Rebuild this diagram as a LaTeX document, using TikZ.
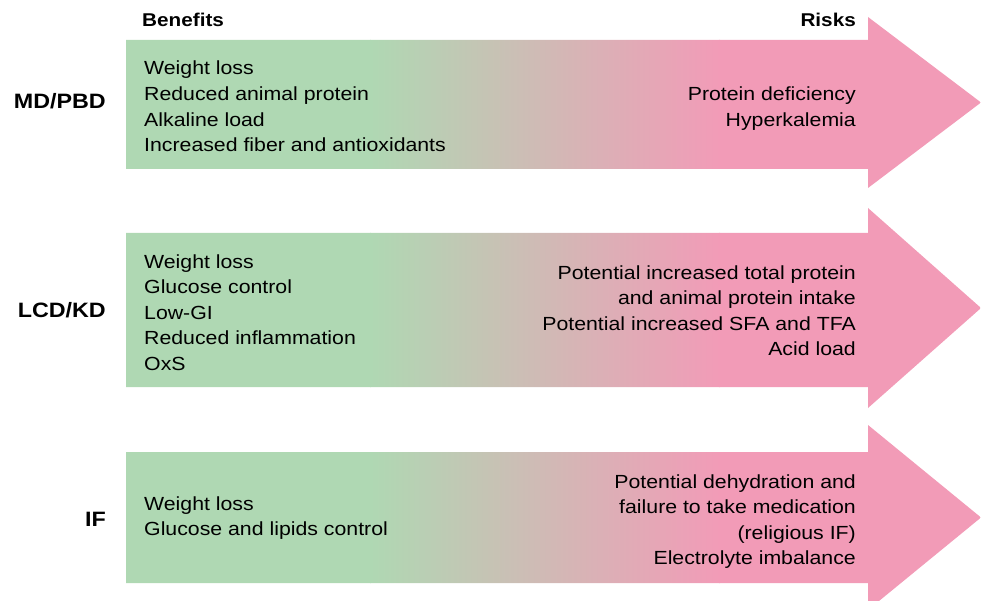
\documentclass[tikz,border=0pt]{standalone}
\usepackage{fontspec}
\setmainfont{Liberation Sans}[FakeStretch=1.12]
\definecolor{bgreen}{HTML}{AFD8B3}
\definecolor{rpink}{HTML}{F29BB7}
\begin{document}
\begin{tikzpicture}[x=1pt,y=-1pt,
  txt/.style={font=\fontsize{19}{25.6}\selectfont, inner sep=0pt},
  lbl/.style={font=\fontsize{20.8}{24}\selectfont\bfseries, inner sep=0pt, anchor=base east},
  hdr/.style={font=\fontsize{18.5}{22}\selectfont\bfseries, inner sep=0pt}]
\useasboundingbox (0,0) rectangle (981,601);
\begin{scope}
\clip (126,40) -- (868,40) -- (868,17) -- (981,102.5) -- (868,188) -- (868,169) -- (126,169) -- cycle
      (126,233) -- (868,233) -- (868,208) -- (981,308) -- (868,408) -- (868,387) -- (126,387) -- cycle
      (126,452) -- (868,452) -- (868,425) -- (981,517.5) -- (868,610) -- (868,583) -- (126,583) -- cycle;
\fill[bgreen] (120,0) rectangle (371,620);
\shade[left color=bgreen,right color=rpink] (370,0) rectangle (720,620);
\fill[rpink] (719,0) rectangle (990,620);
\end{scope}
% headers
\node[hdr, anchor=base west] (hb) at (142,27) {Benefits};
\node[hdr, anchor=base east] (hr) at (856,27) {Risks};
% row labels
\node[lbl] (l1) at (106,109) {MD/PBD};
\node[lbl] (l2) at (106,317) {LCD/KD};
\node[lbl] (l3) at (106,526) {IF};
% benefits (base anchor = baseline of last line)
\node[txt, anchor=base west, align=left] (b1) at (144,151.8)
  {Weight loss\\Reduced animal protein\\Alkaline load\\Increased fiber and antioxidants};
\node[txt, anchor=base west, align=left] (b2) at (144,370.4)
  {Weight loss\\Glucose control\\Low-GI\\Reduced inflammation\\OxS};
\node[txt, anchor=base west, align=left] (b3) at (144,535.6)
  {Weight loss\\Glucose and lipids control};
% risks
\node[txt, anchor=base east, align=right] (r1) at (856,126.6)
  {Protein deficiency\\Hyperkalemia};
\node[txt, anchor=base east, align=right] (r2) at (856,355.8)
  {Potential increased total protein\\and animal protein intake\\Potential increased SFA and TFA\\Acid load};
\node[txt, anchor=base east, align=right] (r3) at (856,564.8)
  {Potential dehydration and\\failure to take medication\\(religious IF)\\Electrolyte imbalance};
\end{tikzpicture}
\end{document}
